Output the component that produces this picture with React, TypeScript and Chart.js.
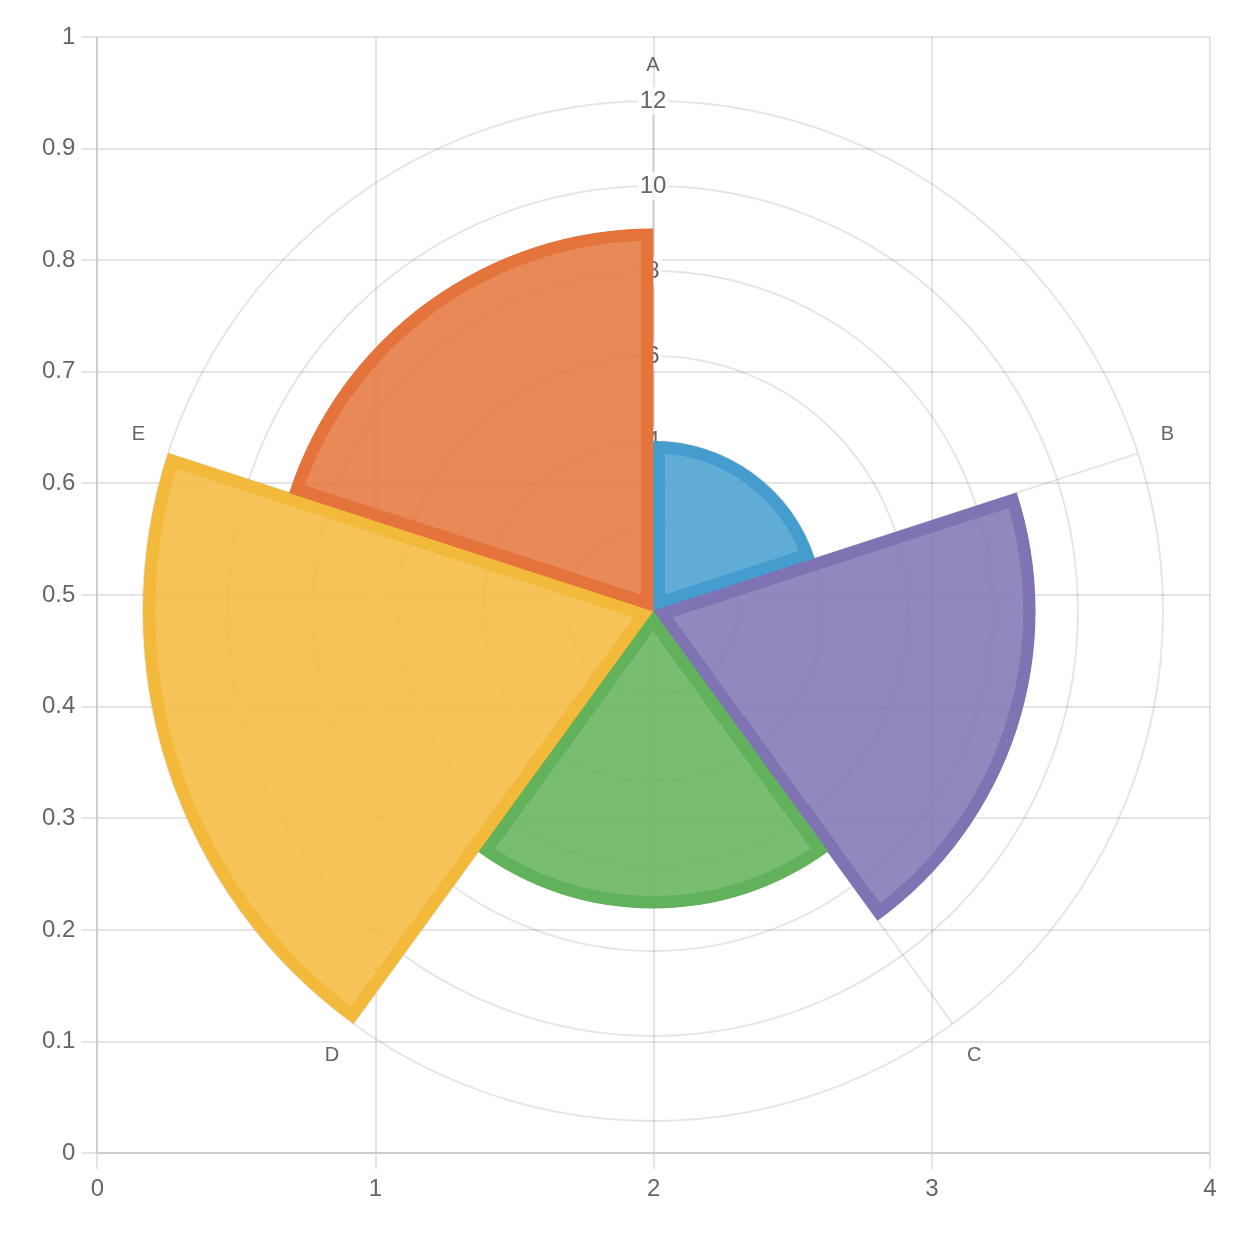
import { useEffect, useRef } from "react";
import { Chart, registerables } from "chart.js";

Chart.register(...registerables);

// Polar area data
const categories = ["A", "B", "C", "D", "E"];
const values = [4, 9, 7, 12, 9];
const borderColors = ["#449dce", "#8073b3", "#61b25a", "#f3b93b", "#e4743c"];
const fillColors = [
  "rgba(68,157,206,0.85)",
  "rgba(128,115,179,0.85)",
  "rgba(97,178,90,0.85)",
  "rgba(243,185,59,0.85)",
  "rgba(228,116,60,0.85)",
];

// Axis ranges
const xRange = [0, 4];
const xStep = 1;
const yRange = [0, 1];
const yStep = 0.1;
const rRange = [0, 12];
const rStep = 2;

const GRID = "rgba(0,0,0,0.1)";
const TEXT = "#666";
const FONT = "'Liberation Sans', 'Helvetica Neue', Helvetica, Arial, sans-serif";

const fmt = (v: number | string) => String(Number(Number(v).toFixed(2)));

export default function App() {
  const ref = useRef<HTMLCanvasElement | null>(null);

  useEffect(() => {
    document.body.style.margin = "0";
    const canvas = ref.current;
    if (!canvas) return;
    Chart.defaults.font.family = FONT;
    const chart = new Chart(canvas, {
      type: "polarArea",
      data: {
        labels: categories,
        datasets: [
          {
            data: values,
            backgroundColor: fillColors,
            borderColor: borderColors,
            borderWidth: 12,
            borderAlign: "inner",
          },
        ],
      },
      options: {
        responsive: false,
        animation: false,
        devicePixelRatio: 1,
        layout: { padding: { top: 37, right: 50, bottom: 26, left: 36 } },
        plugins: {
          legend: { display: false },
          tooltip: { enabled: false },
        },
        scales: {
          x: {
            type: "linear",
            position: "bottom",
            min: xRange[0],
            max: xRange[1],
            ticks: { stepSize: xStep, color: TEXT, font: { size: 24 }, padding: 6, callback: fmt },
            grid: { color: GRID, lineWidth: 2, tickLength: 16 },
            border: { color: GRID, width: 2 },
          },
          y: {
            type: "linear",
            position: "left",
            min: yRange[0],
            max: yRange[1],
            ticks: { stepSize: yStep, color: TEXT, font: { size: 24 }, padding: 6, callback: fmt },
            grid: { color: GRID, lineWidth: 2, tickLength: 16 },
            border: { color: GRID, width: 2 },
          },
          r: {
            type: "radialLinear",
            min: rRange[0],
            max: rRange[1],
            beginAtZero: true,
            ticks: {
              stepSize: rStep,
              color: TEXT,
              font: { size: 24 },
              backdropPadding: 2,
              showLabelBackdrop: true,
            },
            grid: { color: GRID, lineWidth: 2, circular: true },
            angleLines: { display: true, color: GRID, lineWidth: 2 },
            pointLabels: { display: true, color: TEXT, font: { size: 20 }, padding: 10 },
          },
        },
      } as any,
    });
    return () => chart.destroy();
  }, []);

  return (
    <div style={{ position: "absolute", left: 0, top: 0, width: 1260, height: 1236 }}>
      <canvas ref={ref} width={1260} height={1236} style={{ display: "block" }} />
    </div>
  );
}
